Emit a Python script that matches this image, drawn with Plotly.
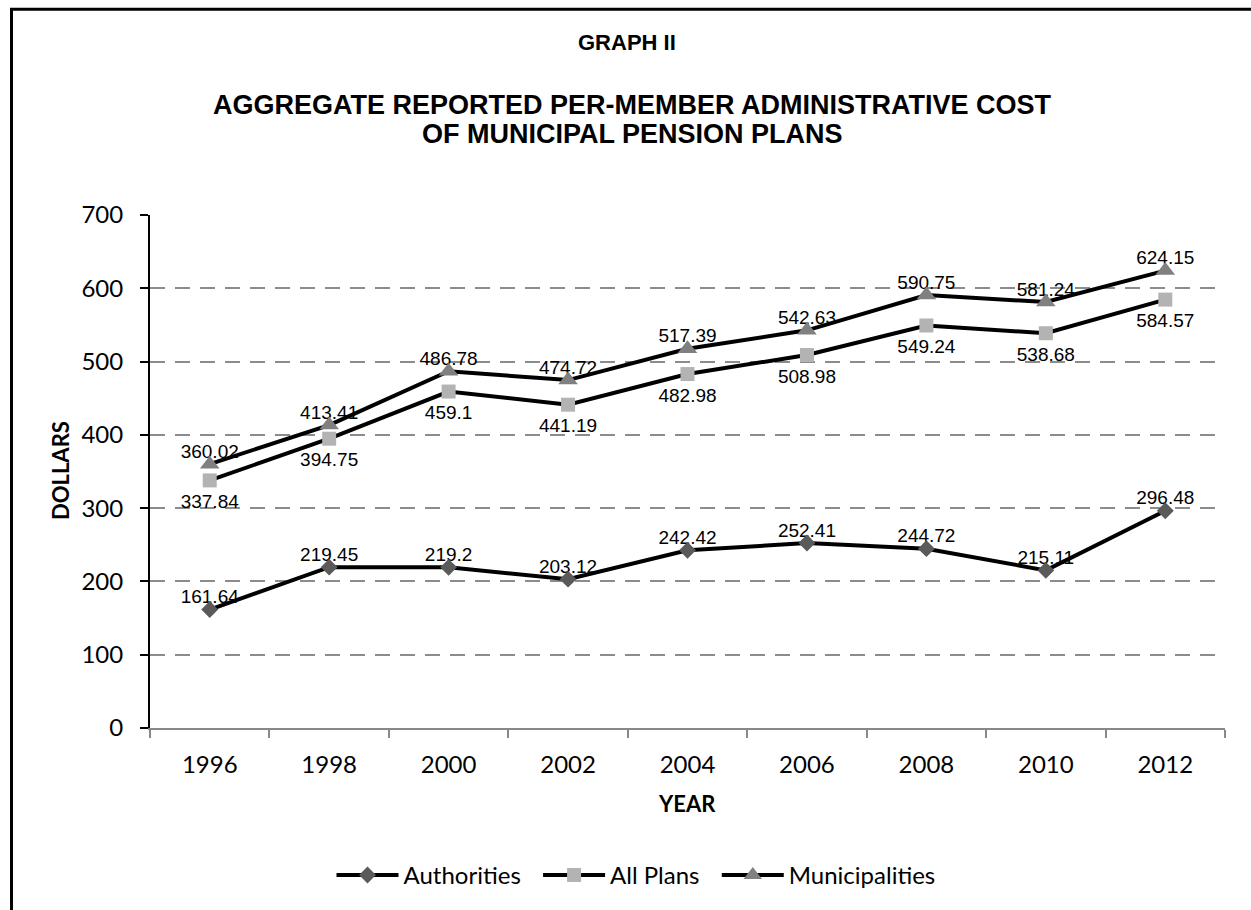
import plotly.graph_objects as go

years = ["1996", "1998", "2000", "2002", "2004", "2006", "2008", "2010", "2012"]
authorities = [161.64, 219.45, 219.2, 203.12, 242.42, 252.41, 244.72, 215.11, 296.48]
all_plans = [337.84, 394.75, 459.1, 441.19, 482.98, 508.98, 549.24, 538.68, 584.57]
municipalities = [360.02, 413.41, 486.78, 474.72, 517.39, 542.63, 590.75, 581.24, 624.15]
y_ticks = [0, 100, 200, 300, 400, 500, 600, 700]

W, H = 1251, 910
L, R, T, B = 150, 26, 215, 180
PW, PH = W - L - R, H - T - B

def px(x):
    return (x - L) / PW

def py(y):
    return (H - B - y) / PH

label_font = dict(family="Liberation Sans, Arial", size=19, color="black")
NB = "\u00a0"

fig = go.Figure()

# data labels first so that the series lines are drawn over them
for series, pos, msize in ((authorities, "top center", 1),
                           (all_plans, "bottom center", 20),
                           (municipalities, "top center", 1)):
    fig.add_trace(go.Scatter(
        x=years, y=series, mode="markers+text", showlegend=False, hoverinfo="skip",
        marker=dict(size=msize, opacity=0, color="white"),
        text=[str(v) for v in series], textposition=pos, textfont=label_font,
        cliponaxis=False,
    ))

fig.add_trace(go.Scatter(
    x=years, y=authorities, name="Authorities" + NB * 2, mode="lines+markers",
    line=dict(color="black", width=4),
    marker=dict(symbol="diamond", size=13, color="#5a5a5a"),
))
fig.add_trace(go.Scatter(
    x=years, y=all_plans, name="All Plans" + NB * 2, mode="lines+markers",
    line=dict(color="black", width=4),
    marker=dict(symbol="square", size=14, color="#b3b3b3"),
))
fig.add_trace(go.Scatter(
    x=years, y=municipalities, name="Municipalities", mode="lines+markers",
    line=dict(color="black", width=4),
    marker=dict(symbol="triangle-up", size=17, color="#808080"),
))

annotations = [
    dict(text="<b>GRAPH II</b>", x=px(627), y=py(42), xref="paper", yref="paper",
         showarrow=False, font=dict(family="Liberation Sans, Arial", size=22, color="black"),
         xanchor="center", yanchor="middle"),
    dict(text="<b>AGGREGATE REPORTED PER-MEMBER ADMINISTRATIVE COST</b>", x=px(632), y=py(105),
         xref="paper", yref="paper", showarrow=False,
         font=dict(family="Liberation Sans, Arial", size=27, color="black"),
         xanchor="center", yanchor="middle"),
    dict(text="<b>OF MUNICIPAL PENSION PLANS</b>", x=px(632), y=py(134),
         xref="paper", yref="paper", showarrow=False,
         font=dict(family="Liberation Sans, Arial", size=27, color="black"),
         xanchor="center", yanchor="middle"),
    dict(text="<b>DOLLARS</b>", x=px(60), y=py(472), xref="paper", yref="paper",
         showarrow=False, textangle=-90,
         font=dict(family="Lato", size=22, color="black"),
         xanchor="center", yanchor="middle"),
    dict(text="<b>YEAR</b>", x=px(687), y=py(806), xref="paper", yref="paper",
         showarrow=False, font=dict(family="Lato", size=22, color="black"),
         xanchor="center", yanchor="middle"),
]

fig.update_layout(
    width=W, height=H,
    margin=dict(l=L, r=R, t=T, b=B),
    paper_bgcolor="white", plot_bgcolor="white",
    showlegend=True,
    hovermode=False,
    legend=dict(orientation="h", x=px(636), y=py(878), xanchor="center", yanchor="middle",
                font=dict(family="Lato", size=24, color="black"),
                itemwidth=62, tracegroupgap=0,
                bgcolor="rgba(0,0,0,0)"),
    xaxis=dict(type="category", tickson="boundaries", ticks="outside", ticklen=8,
               tickwidth=2, tickcolor="#888888", showline=True, linecolor="#888888",
               linewidth=2, showgrid=False, range=[-0.5, 8.5],
               tickfont=dict(family="Lato", size=24, color="black"),
               ticklabelstandoff=14),
    yaxis=dict(range=[0, 700], tickvals=y_ticks, ticks="outside", ticklen=8,
               tickwidth=2, tickcolor="black", showline=True, linecolor="black",
               linewidth=2, showgrid=True, gridcolor="#8c8c8c", gridwidth=2,
               griddash="15px,10px", zeroline=False,
               tickfont=dict(family="Lato", size=24, color="black"),
               ticklabelstandoff=12),
    annotations=annotations,
    shapes=[
        dict(type="rect", xref="paper", yref="paper", x0=px(11.5), y0=py(8.5),
             x1=px(1300), y1=py(960), line=dict(color="black", width=3), layer="above"),
    ],
)

fig.write_html("out.html")
